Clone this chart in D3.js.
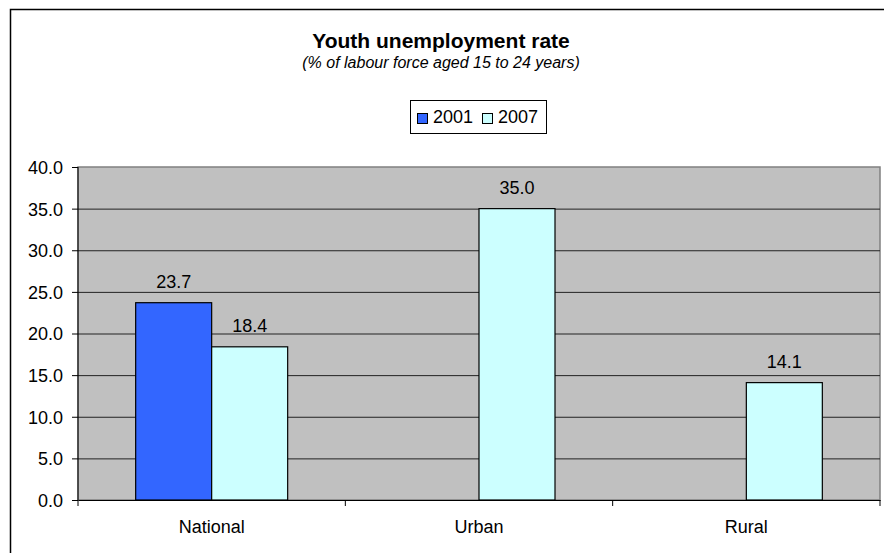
<!DOCTYPE html>
<html>
<head>
<meta charset="utf-8">
<script src="https://cdn.jsdelivr.net/npm/d3@7"></script>
<style>
  body { margin: 0; background: #fff; }
  text { font-family: "Liberation Sans", Arial, sans-serif; fill: #000; }
</style>
</head>
<body>
<div id="chart"></div>
<script>
const categories = ["National", "Urban", "Rural"];
const seriesNames = ["2001", "2007"];
const values2001 = [23.7, null, null];
const values2007 = [18.4, 35.0, 14.1];
const yTicks = [0, 5, 10, 15, 20, 25, 30, 35, 40];

const colors = { "2001": "#3366ff", "2007": "#ccffff" };

const width = 884;
const height = 553;
const margin = { top: 167, right: 4, bottom: 53, left: 78 };
const plotW = width - margin.left - margin.right;
const plotH = height - margin.top - margin.bottom;

const data = categories.map((c, i) => ({
    category: c,
    values: [
        { series: "2001", value: values2001[i] },
        { series: "2007", value: values2007[i] }
    ]
}));

const svg = d3.select("#chart")
    .append("svg")
    .attr("width", width)
    .attr("height", height);

// outer frame (runs off the right and bottom edges)
svg.append("rect")
    .attr("x", 10.5).attr("y", 9.5)
    .attr("width", 1000).attr("height", 1000)
    .attr("fill", "none")
    .attr("stroke", "#000")
    .attr("stroke-width", 1.5);

const x0 = d3.scaleBand()
    .domain(categories)
    .range([0, plotW])
    .padding(0);

const barW = 76;
const x1 = d3.scaleBand()
    .domain(seriesNames)
    .range([x0.bandwidth() / 2 - barW, x0.bandwidth() / 2 + barW]);

const y = d3.scaleLinear()
    .domain([0, 40])
    .range([plotH, 0]);

const g = svg.append("g")
    .attr("transform", `translate(${margin.left},${margin.top})`);

// plot background
g.append("rect")
    .attr("width", plotW)
    .attr("height", plotH)
    .attr("fill", "#c0c0c0")
    .attr("stroke", "#808080")
    .attr("stroke-width", 1.5);

// gridlines
g.append("g")
    .call(d3.axisLeft(y).tickValues(yTicks.slice(1, -1)).tickSize(-plotW).tickFormat(""))
    .call(s => s.select(".domain").remove())
    .selectAll("line")
    .attr("stroke", "#222");

// bars
const groups = g.selectAll(".group")
    .data(data)
    .enter()
    .append("g")
    .attr("transform", d => `translate(${x0(d.category)},0)`);

groups.selectAll("rect")
    .data(d => d.values.filter(v => v.value != null))
    .enter()
    .append("rect")
    .attr("x", d => x1(d.series))
    .attr("y", d => y(d.value))
    .attr("width", x1.bandwidth())
    .attr("height", d => plotH - y(d.value))
    .attr("fill", d => colors[d.series])
    .attr("stroke", "#000")
    .attr("stroke-width", 1.2);

groups.selectAll(".lbl")
    .data(d => d.values.filter(v => v.value != null))
    .enter()
    .append("text")
    .attr("x", d => x1(d.series) + x1.bandwidth() / 2)
    .attr("y", d => y(d.value) - 15)
    .attr("text-anchor", "middle")
    .style("font-size", "18px")
    .text(d => d.value.toFixed(1));

// y axis
const yAxis = g.append("g")
    .call(d3.axisLeft(y).tickValues(yTicks).tickSize(6).tickPadding(9).tickFormat(d3.format(".1f")));
yAxis.select(".domain").remove();
yAxis.selectAll("line").attr("stroke", "#000");
yAxis.selectAll("text")
    .style("font-size", "18px")
    .attr("dy", "0.36em");
g.append("line")
    .attr("x1", 0).attr("x2", 0)
    .attr("y1", 0).attr("y2", plotH)
    .attr("stroke", "#000");

// x axis
const xAxis = g.append("g")
    .attr("transform", `translate(0,${plotH})`)
    .call(d3.axisBottom(x0).tickSize(0).tickPadding(20));
xAxis.select(".domain").attr("stroke", "#000");
xAxis.selectAll("text").style("font-size", "18px");
g.append("g")
    .selectAll("line")
    .data(categories.map(c => x0(c)).concat([plotW]))
    .enter()
    .append("line")
    .attr("x1", d => d).attr("x2", d => d)
    .attr("y1", plotH).attr("y2", plotH + 6)
    .attr("stroke", "#000");

// titles
svg.append("text")
    .attr("x", 441)
    .attr("y", 48)
    .attr("text-anchor", "middle")
    .style("font-size", "21px")
    .style("font-weight", "bold")
    .text("Youth unemployment rate");

svg.append("text")
    .attr("x", 441)
    .attr("y", 68)
    .attr("text-anchor", "middle")
    .style("font-size", "16px")
    .style("font-style", "italic")
    .text("(% of labour force aged 15 to 24 years)");

// legend
const legend = svg.append("g").attr("transform", "translate(410,100)");
legend.append("rect")
    .attr("x", 0.5).attr("y", 0.5)
    .attr("width", 136).attr("height", 33)
    .attr("fill", "#fff")
    .attr("stroke", "#000");
const legendX = [7, 72];
seriesNames.forEach((s, i) => {
    legend.append("rect")
        .attr("x", legendX[i] + 0.5).attr("y", 13.5)
        .attr("width", 10).attr("height", 10)
        .attr("fill", colors[s])
        .attr("stroke", "#000");
    legend.append("text")
        .attr("x", legendX[i] + 16)
        .attr("y", 23)
        .style("font-size", "18px")
        .text(s);
});
</script>
</body>
</html>
